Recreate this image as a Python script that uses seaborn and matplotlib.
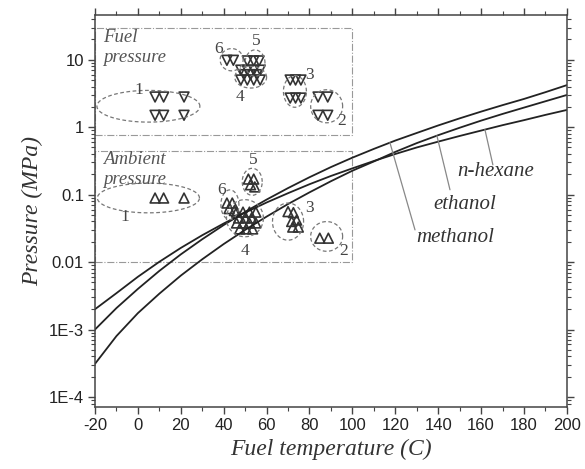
import numpy as np
import pandas as pd
import matplotlib
matplotlib.use("Agg")
import matplotlib.pyplot as plt
import seaborn as sns
from matplotlib.patches import Rectangle
from matplotlib.ticker import MultipleLocator, LogLocator, FixedLocator, NullFormatter

# vapour pressure curves (MPa)
temps = [-20, -10, 0, 10, 20, 30, 40, 50, 60, 70, 80, 90, 100,
         110, 120, 130, 140, 150, 160, 170, 180, 190, 200]
methanol = [1.0e-3, 2.08e-3, 4.0e-3, 7.4e-3, 0.013, 0.0218, 0.0354, 0.0555, 0.0844, 0.125, 0.181, 0.256,
            0.353, 0.476, 0.633, 0.82, 1.06, 1.35, 1.70, 2.12, 2.62, 3.3, 4.2]
ethanol = [3.1e-4, 8.0e-4, 1.75e-3, 3.4e-3, 6.3e-3, 0.011, 0.0185, 0.0300, 0.0472, 0.0725, 0.108, 0.158,
           0.226, 0.31, 0.43, 0.58, 0.76, 0.98, 1.25, 1.57, 1.95, 2.42, 3.0]
hexane = [2.0e-3, 3.46e-3, 6.05e-3, 0.0101, 0.0162, 0.025, 0.0373, 0.0541, 0.0764, 0.105, 0.1425, 0.189,
          0.245, 0.315, 0.40, 0.50, 0.61, 0.74, 0.89, 1.07, 1.27, 1.52, 1.8]

# test conditions: fuel pressure (down triangles)
fuel_T = [8, 12, 21.5, 8, 12, 21.5,
          41.5, 44.5,
          51, 54, 56.5,
          48, 51, 54, 57, 49.5, 52.5, 55.5, 48, 51, 54, 57,
          71, 73.5, 76, 71, 73.5, 76,
          84, 88.5, 84, 88.5]
fuel_P = [2.8, 2.8, 2.8, 1.5, 1.5, 1.5,
          9.8, 9.8,
          9.6, 9.6, 9.6,
          7.0, 7.0, 7.0, 7.0, 6.0, 6.0, 6.0, 5.0, 5.0, 5.0, 5.0,
          5.0, 5.0, 5.0, 2.7, 2.7, 2.7,
          2.8, 2.8, 1.5, 1.5]

# ambient pressure (up triangles)
amb_T = [8, 12, 21.5,
         41.5, 44, 42.5, 45,
         51.5, 54, 52.5, 54.5,
         46, 49, 52, 55, 47, 50, 53, 46, 49, 52, 55, 47.5, 50.5, 53.5,
         70, 72.5, 74, 71.7, 72.2, 74.8,
         84.8, 88.8]
amb_P = [0.089, 0.089, 0.089,
         0.075, 0.075, 0.062, 0.058,
         0.17, 0.17, 0.14, 0.13,
         0.055, 0.055, 0.055, 0.055, 0.045, 0.045, 0.045, 0.038, 0.038, 0.038, 0.038, 0.031, 0.031, 0.031,
         0.056, 0.054, 0.042, 0.040, 0.033, 0.033,
         0.0226, 0.0226]

# group ellipses: centre T, centre log10(P), width (C), height (decades), label T, label log10(P)
group_ids = ["1", "6", "5", "4", "3", "2"]
fuel_ell = [(4.9, 0.31, 48, 0.47, 0.2, 0.55),
            (43.7, 1.0, 10.7, 0.33, 37.5, 1.16),
            (54.6, 0.95, 9.3, 0.39, 55.4, 1.27),
            (52.6, 0.74, 14.8, 0.32, 47.6, 0.45),
            (73.2, 0.53, 10.7, 0.47, 80.2, 0.78),
            (88.0, 0.31, 14.9, 0.49, 95.0, 0.09)]
amb_ell = [(4.9, -1.05, 47.6, 0.44, -6.0, -1.33),
           (42.9, -1.15, 8.4, 0.44, 39.1, -0.93),
           (53.3, -0.81, 9.3, 0.40, 53.8, -0.48),
           (49.9, -1.35, 17.2, 0.55, 49.9, -1.84),
           (70.0, -1.40, 14.5, 0.55, 80.2, -1.20),
           (88.0, -1.62, 14.9, 0.44, 95.8, -1.83)]

# curve labels: text T, text P, T where the leader meets the curve
curve_names = ["n-hexane", "ethanol", "methanol"]
label_T = [167, 152.5, 147.8]
label_P = [0.218, 0.0706, 0.0229]
leader_from = [(165.5, 0.277), (145.5, 0.118), (129.2, 0.030)]
leader_to_T = [161.8, 139.4, 117.5]

xticks = [-20, 0, 20, 40, 60, 80, 100, 120, 140, 160, 180, 200]
yticks = [1e-4, 1e-3, 0.01, 0.1, 1, 10]
ytick_labels = ["1E-4", "1E-3", "0.01", "0.1", "1", "10"]

sns.set_theme(style="ticks")
plt.rcParams["font.family"] = ["Liberation Sans", "DejaVu Sans"]

fig = plt.figure(figsize=(5.85, 4.69), dpi=100)
ax = fig.add_axes([0.1624, 0.1322, 0.8066, 0.8358])

curves = pd.DataFrame({"T": temps * 3,
                       "P": methanol + ethanol + hexane,
                       "fluid": ["methanol"] * len(temps) + ["ethanol"] * len(temps) + ["n-hexane"] * len(temps)})
sns.lineplot(data=curves, x="T", y="P", units="fluid", estimator=None, color="#222222",
             linewidth=1.3, ax=ax, legend=False)
ax.set_yscale("log")

pts = pd.DataFrame({"T": fuel_T + amb_T, "P": fuel_P + amb_P,
                    "kind": ["fuel"] * len(fuel_T) + ["ambient"] * len(amb_T)})
sns.scatterplot(data=pts, x="T", y="P", style="kind", markers={"fuel": "v", "ambient": "^"},
                s=50, facecolor="none", edgecolor="#333333", linewidth=1.2, ax=ax, legend=False)

serif = ["Liberation Serif", "DejaVu Serif"]
t = np.linspace(0, 2 * np.pi, 120)
for ells in (fuel_ell, amb_ell):
    for gid, (cx, cy, w, h, lx, ly) in zip(group_ids, ells):
        ax.plot(cx + w / 2 * np.cos(t), 10 ** (cy + h / 2 * np.sin(t)), ls=(0, (3, 2)),
                color="#777777", lw=0.9)
        ax.text(lx, 10 ** ly, gid, family=serif, fontsize=12.5, color="#444444",
                ha="center", va="center")

# dash-dot boxes
for lo, hi in ((0.77, 29.5), (0.01, 0.45)):
    ax.add_patch(Rectangle((-20, lo), 120, hi - lo, fill=False, ls="-.", lw=0.8, ec="#999999"))
ax.text(-16.3, 28.5, "Fuel\npressure", family=serif, style="italic", fontsize=13.5,
        color="#555555", va="top", ha="left", linespacing=1.25)
ax.text(-16.3, 0.44, "Ambient\npressure", family=serif, style="italic", fontsize=13.5,
        color="#555555", va="top", ha="left", linespacing=1.25)

lookup = {"methanol": methanol, "ethanol": ethanol, "n-hexane": hexane}
for name, tx, ty, (fx, fy), tt in zip(curve_names, label_T, label_P, leader_from, leader_to_T):
    yy = 10 ** np.interp(tt, temps, np.log10(lookup[name]))
    ax.plot([fx, tt], [fy, yy], color="#888888", lw=0.9)
    ax.text(tx, ty, name, family=serif, style="italic", fontsize=15, color="#333333",
            ha="center", va="center")

ax.set_xlim(-20, 200)
ax.set_ylim(7.1e-5, 46)
ax.xaxis.set_major_locator(FixedLocator(xticks))
ax.xaxis.set_minor_locator(MultipleLocator(10))
ax.set_xticklabels([str(v) for v in xticks])
ax.yaxis.set_major_locator(FixedLocator(yticks))
ax.yaxis.set_minor_locator(LogLocator(base=10, subs=np.arange(2, 10), numticks=20))
ax.yaxis.set_minor_formatter(NullFormatter())
ax.set_yticklabels(ytick_labels)

ax.tick_params(which="both", direction="out", top=True, right=True, color="#444444",
               labelsize=12, labelcolor="#222222", pad=3)
ax.tick_params(which="major", length=5, width=1)
ax.tick_params(which="minor", length=3, width=0.8)
for sp in ax.spines.values():
    sp.set_color("#444444")
    sp.set_linewidth(1.1)

ax.set_xlabel("Fuel temperature (C)", family=serif, style="italic", fontsize=17, color="#333333")
ax.set_ylabel("Pressure (MPa)", family=serif, style="italic", fontsize=17, color="#333333")

fig.savefig("out.png", dpi=100)
